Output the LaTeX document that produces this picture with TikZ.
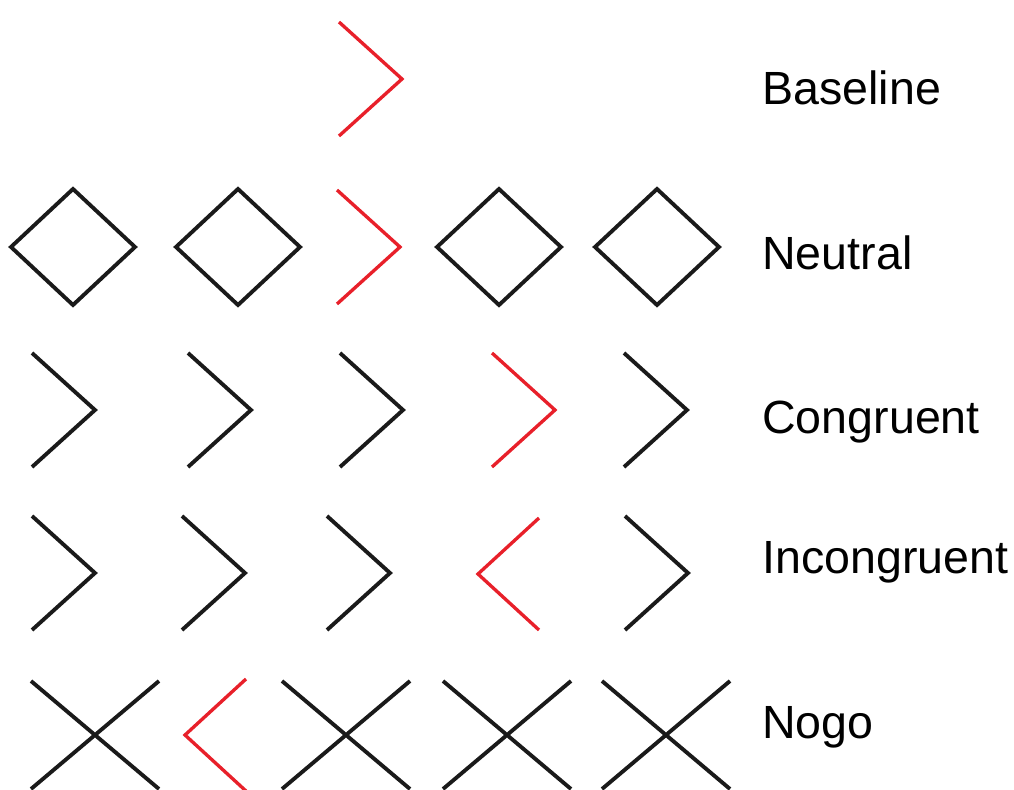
\documentclass[tikz,border=0pt]{standalone}
\usepackage{fontspec}
\setmainfont{Liberation Sans}
\definecolor{stimred}{RGB}{232,32,42}
\definecolor{stimblack}{RGB}{26,26,26}

\begin{document}
\begin{tikzpicture}[x=0.02cm,y=-0.02cm]
\tikzset{stim/.style = {draw=stimblack, line width=2.2pt}}
\tikzset{target/.style = {draw=stimred, line width=1.9pt}}
\tikzset{cond/.style = {anchor=base west, inner sep=0pt, font=\fontsize{26.5}{31}\selectfont}}
\tikzset{rchev/.pic = {\draw[pic actions] (-63,-57) -- (0,0) -- (-63,57);}}
\tikzset{lchev/.pic = {\draw[pic actions] (61,-56) -- (0,0) -- (61,56);}}
\tikzset{diam/.pic = {\draw[pic actions] (-62,0) -- (0,-58) -- (62,0) -- (0,58) -- cycle;}}
\tikzset{cross/.pic = {\draw[pic actions] (-64,-54) -- (64,54) (64,-54) -- (-64,54);}}
\useasboundingbox (0,0) rectangle (1014,790);
% baseline
\pic[target] (b1) at (402,79) {rchev};
% neutral
\pic[stim] (n1) at (73,247) {diam};
\pic[stim] (n2) at (238,247) {diam};
\pic[target] (n3) at (400,247) {rchev};
\pic[stim] (n4) at (499,247) {diam};
\pic[stim] (n5) at (657,247) {diam};
% congruent
\pic[stim] (c1) at (95,410) {rchev};
\pic[stim] (c2) at (251,410) {rchev};
\pic[stim] (c3) at (403,410) {rchev};
\pic[target] (c4) at (555,410) {rchev};
\pic[stim] (c5) at (687,410) {rchev};
% incongruent
\pic[stim] (i1) at (95,573) {rchev};
\pic[stim] (i2) at (245,573) {rchev};
\pic[stim] (i3) at (390,573) {rchev};
\pic[target] (i4) at (478,574) {lchev};
\pic[stim] (i5) at (688,573) {rchev};
% nogo
\pic[stim] (g1) at (95,735) {cross};
\pic[target] (g2) at (185,735) {lchev};
\pic[stim] (g3) at (346,735) {cross};
\pic[stim] (g4) at (507,735) {cross};
\pic[stim] (g5) at (666,735) {cross};
% labels
\node[cond] (lbase) at (762,105) {Baseline};
\node[cond] (lneut) at (762,270) {Neutral};
\node[cond] (lcong) at (762,433) {Congruent};
\node[cond] (linc) at (762,573) {Incongruent};
\node[cond] (lnogo) at (762,738) {Nogo};
\end{tikzpicture}
\end{document}
